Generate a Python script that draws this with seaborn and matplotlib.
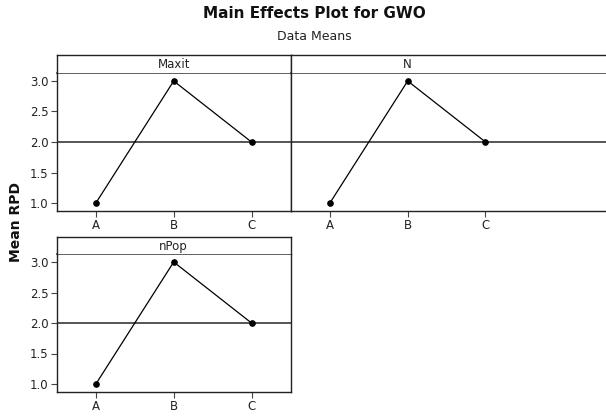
import numpy as np
import pandas as pd
import matplotlib
matplotlib.use('Agg')
import matplotlib.pyplot as plt
import seaborn as sns

sns.set_theme(style='white')
plt.rcParams['font.family'] = ['DejaVu Sans']

# data means for each factor / level
factors = ['Maxit', 'N', 'nPop']
levels = ['A', 'B', 'C']
maxit_means = [1.0, 3.0, 2.0]
n_means = [1.0, 3.0, 2.0]
npop_means = [1.0, 3.0, 2.0]
grand_mean = 2.0
yticks = [1.0, 1.5, 2.0, 2.5, 3.0]

df = pd.DataFrame({
    'factor': np.repeat(factors, len(levels)),
    'level': levels * len(factors),
    'mean': maxit_means + n_means + npop_means,
})

W, H = 606, 419
fig = plt.figure(figsize=(W / 100, H / 100), dpi=100)

def px(x0, y0, x1, y1):
    # pixel box (top-left origin) -> figure fraction
    return [x0 / W, 1 - y1 / H, (x1 - x0) / W, (y1 - y0) / H]

unit = 77.8  # pixels per level
# (factor, left, right, strip top, strip bottom, axis bottom, show right spine)
panels = [
    ('Maxit', 57, 291, 55, 73, 211, True),
    ('N', 291, 640, 55, 73, 211, False),
    ('nPop', 57, 291, 237, 254, 392, True),
]

edge = '#222222'
for name, x0, x1, st, sb, bot, right in panels:
    ax = fig.add_axes(px(x0, sb, x1, bot))
    sub = df[df['factor'] == name]
    ax.axhline(grand_mean, color='#555555', lw=1.4, zorder=1)
    sns.lineplot(data=sub, x='level', y='mean', ax=ax, color='black',
                 lw=0.9, marker='o', markersize=4, markeredgecolor='black',
                 zorder=3, legend=False)
    ax.set_xlim(-0.5, -0.5 + (x1 - x0) / unit)
    ax.set_ylim(1 - 8 * 2 / 122, 3 + 8 * 2 / 122)
    ax.set_xticks(range(len(levels)))
    ax.set_xticklabels(levels)
    ax.set_xlabel('')
    ax.set_ylabel('')
    ax.grid(False)
    ax.tick_params(axis='x', bottom=True, length=4, width=0.8, color='#444444',
                   labelsize=8.5, labelcolor='#222222', pad=2)
    if name != 'N':
        ax.set_yticks(yticks)
        ax.set_yticklabels([f'{v:.1f}' for v in yticks])
        ax.tick_params(axis='y', left=True, length=4, width=0.8, color='#444444',
                       labelsize=8.5, labelcolor='#222222', pad=2)
    else:
        ax.set_yticks([])
    for s in ax.spines.values():
        s.set_color(edge)
        s.set_linewidth(1.0)
    ax.spines['top'].set_color('#444444')
    ax.spines['top'].set_linewidth(1.2)
    ax.spines['right'].set_visible(right)

    # strip with factor name
    sax = fig.add_axes(px(x0, st, x1, sb))
    sax.set_xticks([])
    sax.set_yticks([])
    sax.set_facecolor('white')
    for s in sax.spines.values():
        s.set_color(edge)
        s.set_linewidth(1.0)
    sax.spines['bottom'].set_visible(False)
    sax.spines['right'].set_visible(right)
    # label sits over the middle level of the panel
    sax.text((1 + 0.5) * unit / (x1 - x0), 0.45, name,
             transform=sax.transAxes, ha='center', va='center',
             fontsize=8.5, color='#222222')

fig.text(314 / W, 1 - 14 / H, 'Main Effects Plot for GWO', ha='center',
         va='center', fontsize=11, fontweight='bold', color='#111111')
fig.text(314 / W, 1 - 37 / H, 'Data Means', ha='center', va='center',
         fontsize=9, color='#222222')
fig.text(16 / W, 1 - 222 / H, 'Mean RPD', ha='center', va='center',
         rotation=90, fontsize=10, fontweight='bold', color='#111111')

fig.savefig('out.png', dpi=100)
